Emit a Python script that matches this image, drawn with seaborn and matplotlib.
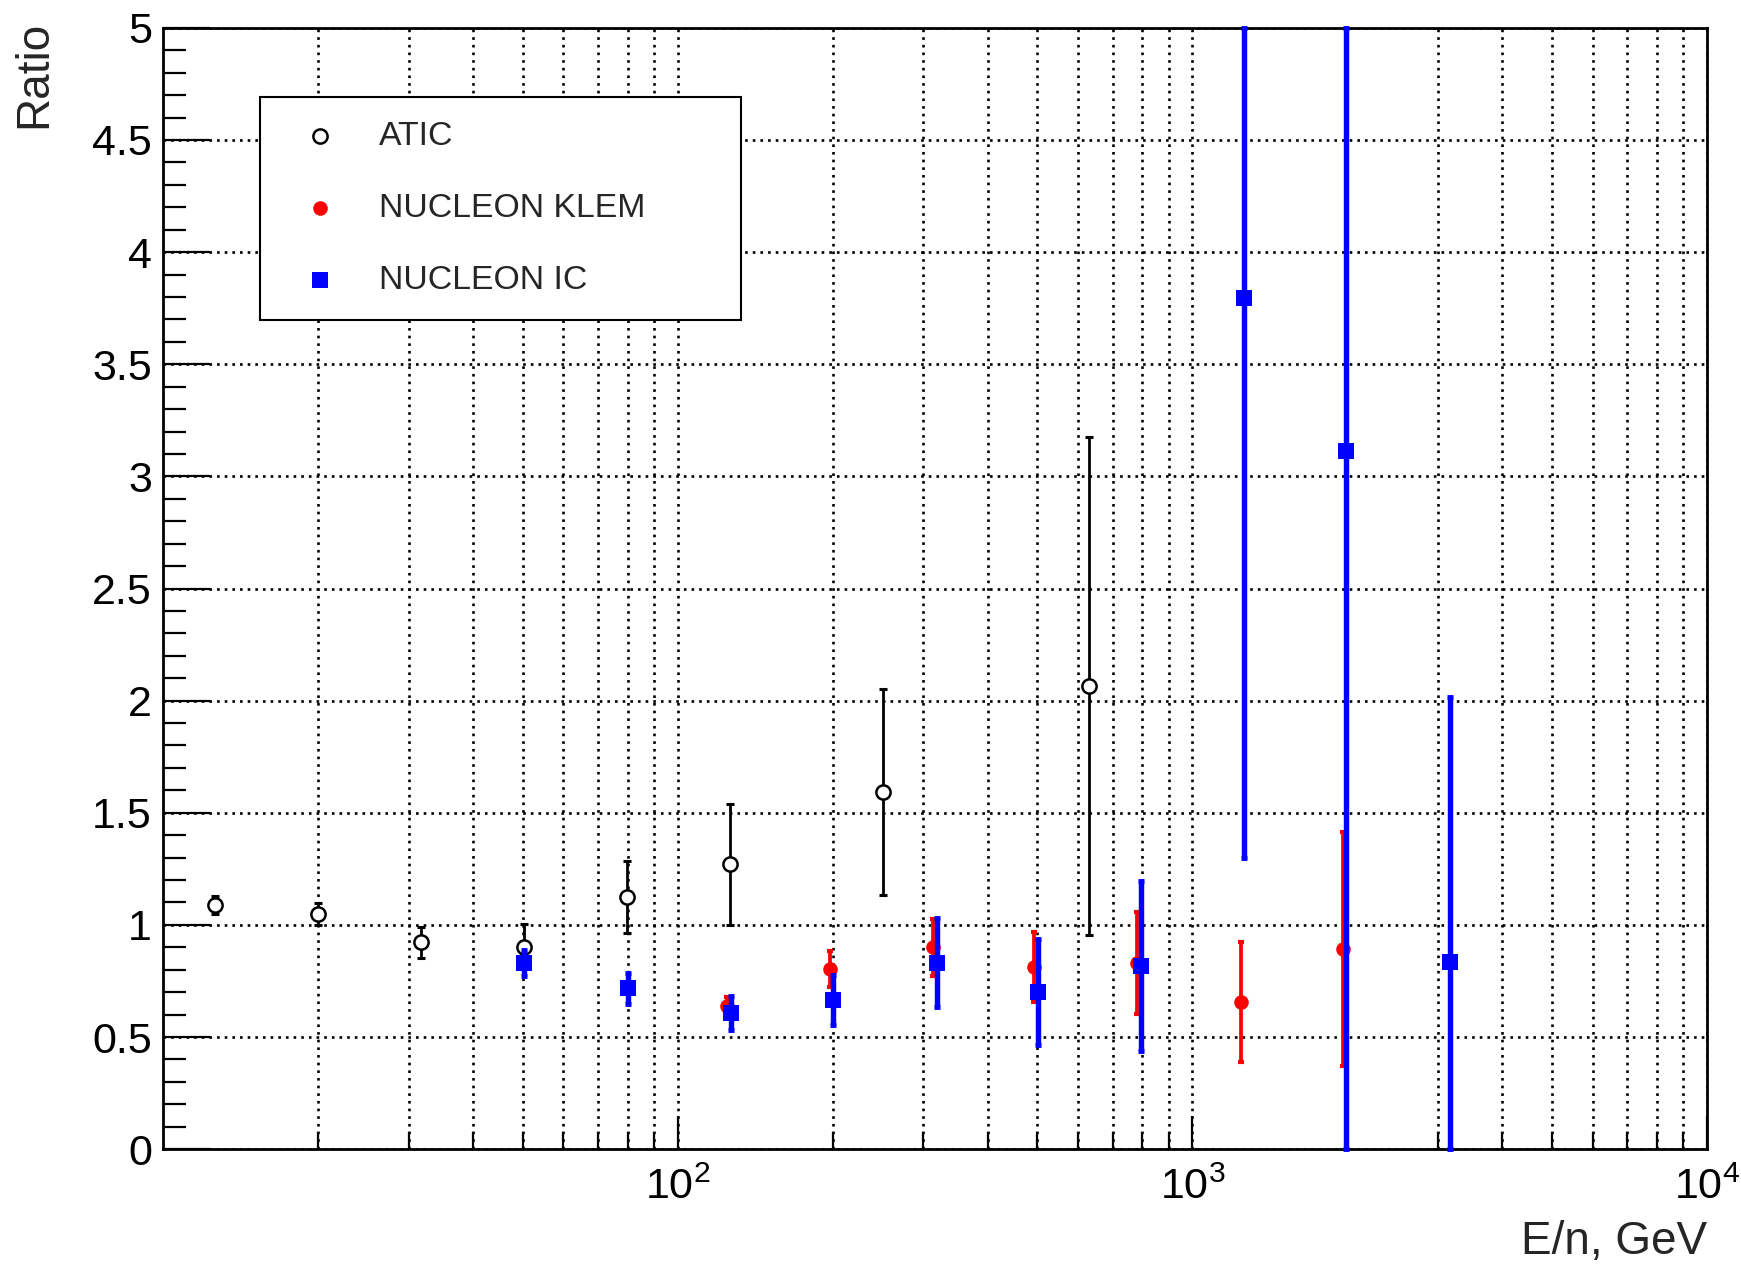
import numpy as np
import matplotlib
matplotlib.use("Agg")
import matplotlib.pyplot as plt
import seaborn as sns
from matplotlib.ticker import MultipleLocator, LogLocator, FuncFormatter, NullFormatter

# ---------------- data ----------------
atic_x = [12.6, 20.0, 31.7, 50.2, 79.6, 126.4, 251.0, 631.0]
atic_y = [1.089, 1.049, 0.922, 0.903, 1.126, 1.270, 1.594, 2.064]
atic_err = [0.04, 0.05, 0.07, 0.10, 0.16, 0.27, 0.46, 1.11]

klem_x = [124.8, 198.0, 313.0, 493.0, 780.0, 1241.0, 1966.0]
klem_y = [0.640, 0.802, 0.900, 0.811, 0.829, 0.658, 0.893]
klem_err = [0.04, 0.08, 0.126, 0.156, 0.227, 0.268, 0.522]

ic_x = [50.3, 80.0, 127.0, 200.5, 318.5, 502.0, 796.0, 1262.0, 1990.0, 3170.0]
ic_y = [0.829, 0.717, 0.606, 0.665, 0.832, 0.702, 0.817, 3.797, 3.114, 0.836]
ic_err = [0.058, 0.068, 0.076, 0.11, 0.20, 0.237, 0.377, 2.50, 3.30, 1.18]

x_ticks = [100, 1000, 10000]
x_tick_labels = [r"$\mathregular{10^{2}}$", r"$\mathregular{10^{3}}$", r"$\mathregular{10^{4}}$"]
series_labels = ["ATIC", "NUCLEON KLEM", "NUCLEON IC"]
x_label = "E/n, GeV"
y_label = "Ratio"

YMIN, YMAX = 0.0, 5.0

# ---------------- style ----------------
sns.set_theme(style="white")
plt.rcParams["font.family"] = ["Liberation Sans", "DejaVu Sans"]
plt.rcParams["mathtext.fontset"] = "custom"
plt.rcParams["mathtext.rm"] = "Liberation Sans"
plt.rcParams["mathtext.it"] = "Liberation Sans:italic"
plt.rcParams["mathtext.bf"] = "Liberation Sans:bold"
plt.rcParams["lines.solid_capstyle"] = "butt"

fig = plt.figure(figsize=(17.41, 12.66), dpi=100)
ax = fig.add_axes([0.09362, 0.09226, 0.88685, 0.88578])
ax.set_facecolor("white")


def clipped(y, e):
    y = np.asarray(y, float)
    e = np.asarray(e, float)
    lo = np.minimum(e, y - YMIN)
    hi = np.minimum(e, YMAX - y)
    return [lo, hi]


# ATIC
ax.errorbar(atic_x, atic_y, yerr=clipped(atic_y, atic_err), fmt="none",
            ecolor="black", elinewidth=2.0, capsize=2.8, capthick=2.2,
            zorder=3, clip_on=False)
sns.scatterplot(x=atic_x, y=atic_y, marker="o", s=105, facecolors="white",
                edgecolor="black", linewidth=1.8, label=series_labels[0],
                zorder=4, ax=ax, clip_on=False)

# NUCLEON KLEM
ax.errorbar(klem_x, klem_y, yerr=clipped(klem_y, klem_err), fmt="none",
            ecolor="#ff0000", elinewidth=2.7, capsize=2.0, capthick=3.0,
            zorder=5, clip_on=False)
sns.scatterplot(x=klem_x, y=klem_y, marker="o", s=110, color="#ff0000",
                edgecolor="#ff0000", linewidth=0, label=series_labels[1],
                zorder=6, ax=ax, clip_on=False)

# NUCLEON IC
ax.errorbar(ic_x, ic_y, yerr=clipped(ic_y, ic_err), fmt="none",
            ecolor="#0000ff", elinewidth=3.9, capsize=2.2, capthick=3.5,
            zorder=7, clip_on=False)
sns.scatterplot(x=ic_x, y=ic_y, marker="s", s=117, color="#0000ff",
                edgecolor="#0000ff", linewidth=0, label=series_labels[2],
                zorder=8, ax=ax, clip_on=False)

# ---------------- axes ----------------
ax.set_xscale("log")
ax.set_xlim(10, 1e4)
ax.set_ylim(YMIN, YMAX)

ax.set_xticks(x_ticks)
ax.set_xticklabels(x_tick_labels)
ax.xaxis.set_minor_locator(LogLocator(base=10, subs=np.arange(2, 10)))
ax.xaxis.set_minor_formatter(NullFormatter())

ax.yaxis.set_major_locator(MultipleLocator(0.5))
ax.yaxis.set_minor_locator(MultipleLocator(0.1))
ax.yaxis.set_major_formatter(FuncFormatter(lambda v, p: f"{v:g}"))

dot = (0, (1, 1.9))
ax.grid(which="both", axis="x", linestyle=dot, color="black", linewidth=1.9)
ax.grid(which="major", axis="y", linestyle=dot, color="black", linewidth=1.9)
ax.set_axisbelow(True)

ax.tick_params(axis="both", which="both", direction="in", color="black",
               width=1.6, top=False, right=False, bottom=True, left=True,
               labelsize=31, labelcolor="black")
ax.tick_params(axis="y", which="major", length=33.5, pad=8)
ax.tick_params(axis="y", which="minor", length=16.6)
ax.tick_params(axis="x", which="major", length=24, pad=13)
ax.tick_params(axis="x", which="minor", length=12)

for sp in ax.spines.values():
    sp.set_visible(True)
    sp.set_color("black")
    sp.set_linewidth(2.0)

ax.set_xlabel(x_label, fontsize=33, loc="right")
ax.xaxis.set_label_coords(1.0, -0.063)
ax.set_ylabel(y_label, fontsize=33, loc="top")
ax.yaxis.set_label_coords(-0.069, 1.006)

# ---------------- legend ----------------
leg = ax.legend(loc="upper left", bbox_to_anchor=(0.0628, 0.7383, 0.3115, 0.2),
                mode="expand", borderaxespad=0, fontsize=24.3, frameon=True,
                fancybox=False, framealpha=1, edgecolor="black",
                borderpad=0.7, handlelength=2.16, handletextpad=0.67,
                labelspacing=1.22, scatterpoints=1)
leg.get_frame().set_linewidth(1.5)
leg.set_zorder(20)

fig.savefig("out.png", dpi=100, facecolor="white")
